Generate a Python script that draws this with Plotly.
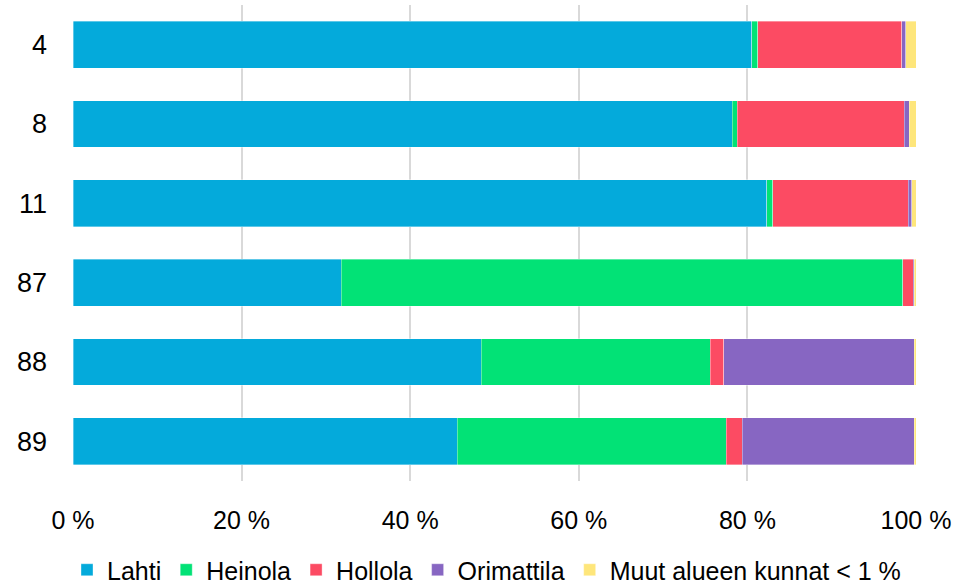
import plotly.graph_objects as go

categories = ["4", "8", "11", "87", "88", "89"]
lahti = [80.5, 78.2, 82.3, 31.8, 48.4, 45.6]
heinola = [0.7, 0.6, 0.7, 66.6, 27.2, 31.9]
hollola = [17.1, 19.8, 16.1, 1.3, 1.6, 1.9]
orimattila = [0.5, 0.6, 0.4, 0.1, 22.6, 20.4]
muut = [1.2, 0.8, 0.5, 0.2, 0.2, 0.2]
tick_vals = [0, 20, 40, 60, 80, 100]
tick_text = ["0 %", "20 %", "40 %", "60 %", "80 %", "100 %"]

series = [
    ("Lahti", lahti, "#04AADB"),
    ("Heinola", heinola, "#02E276"),
    ("Hollola", hollola, "#FC4B63"),
    ("Orimattila", orimattila, "#8766C2"),
    ("Muut alueen kunnat < 1 %", muut, "#FEE67B"),
]

fig = go.Figure()
for name, vals, color in series:
    fig.add_trace(go.Bar(
        y=categories, x=vals, name=name, orientation="h",
        marker=dict(color=color, line=dict(color="rgba(255,255,255,0.6)", width=0.6)),
    ))

fig.update_layout(
    barmode="stack",
    bargap=0.41,
    width=973, height=586,
    margin=dict(l=73, r=57, t=5, b=105, autoexpand=False),
    plot_bgcolor="white", paper_bgcolor="white",
    font=dict(family="Liberation Sans, Arial, sans-serif", size=24, color="#000000"),
    legend=dict(orientation="h", traceorder="normal", x=0.5, xref="container", xanchor="center",
                y=(586 - 570) / 586, yref="container", yanchor="middle",
                font=dict(size=25), itemwidth=30, tracegroupgap=0),
    showlegend=True,
)
fig.update_xaxes(range=[0, 100], tickvals=tick_vals, ticktext=tick_text,
                 showgrid=True, gridcolor="#D9D9D9", gridwidth=2, zeroline=False,
                 ticks="", ticklabelstandoff=22, showline=False,
                 tickfont=dict(size=25))
fig.update_yaxes(autorange="reversed", type="category", showgrid=False, ticks="",
                 ticklabelstandoff=25,
                 tickfont=dict(size=27))

fig.write_html("out.html")
